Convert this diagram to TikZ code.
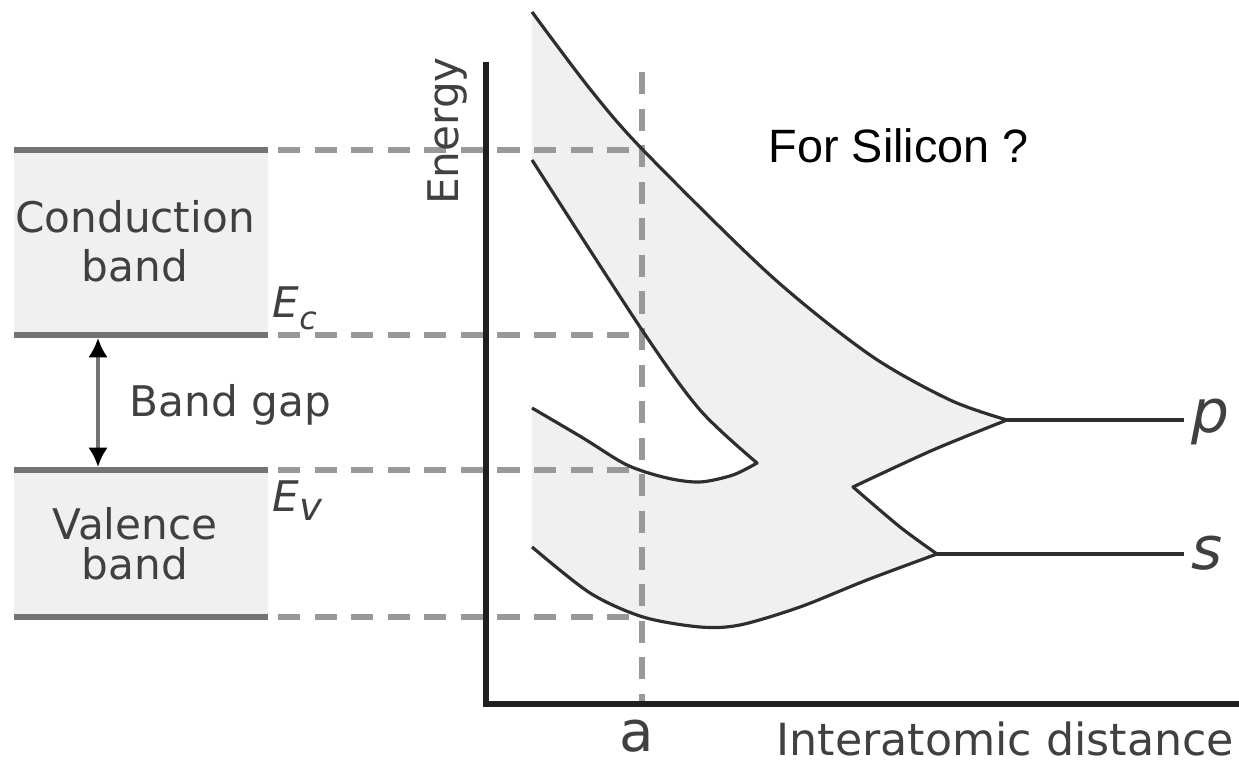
\documentclass[tikz,border=0pt]{standalone}
\usepackage{fontspec}
\setmainfont{DejaVu Sans}
\newfontfamily\notefont{Liberation Sans}
\usetikzlibrary{arrows.meta,positioning,calc}

\begin{document}
\begin{tikzpicture}[
    x=0.01cm, y=-0.01cm,
    >=Latex,
    lbl/.style={text=black!75, inner sep=0pt, font=\fontsize{12}{14}\selectfont},
    orbital/.style={text=black!75, inner sep=2pt, font=\fontsize{17}{17}\selectfont\itshape},
    bandline/.style={draw=black!55, line width=1.9pt},
    bandfill/.style={fill=black!6},
    guide/.style={draw=black!40, line width=1.5pt, dash pattern=on 6.3pt off 4.1pt},
    axis/.style={draw=black!88, line width=1.7pt},
    level/.style={draw=black!82, line width=0.9pt, line join=round},
    gaparrow/.style={draw=black!55, line width=0.9pt,
        {Latex[length=5.5pt,width=5.5pt,color=black]}-{Latex[length=5.5pt,width=5.5pt,color=black]}}
]

% Frame
\useasboundingbox (0,0) rectangle (1239,762);

% Bands on the left
\coordinate (ctopL) at (14,150);  \coordinate (ctopR) at (268,150);
\coordinate (cbotL) at (14,335);  \coordinate (cbotR) at (268,335);
\coordinate (vtopL) at (14,470);  \coordinate (vtopR) at (268,470);
\coordinate (vbotL) at (14,617);  \coordinate (vbotR) at (268,617);

\fill[bandfill] (ctopL) rectangle (cbotR);
\fill[bandfill] (vtopL) rectangle (vbotR);
\draw[bandline] (ctopL) -- (ctopR);
\draw[bandline] (cbotL) -- (cbotR);
\draw[bandline] (vtopL) -- (vtopR);
\draw[bandline] (vbotL) -- (vbotR);

\node[lbl, align=center] (cblabel) at (135,241) {Conduction\\band};
\node[lbl, align=center] (vblabel) at (135,544) {Valence\\[-2.6pt]band};
\node[lbl, anchor=base west] (gaplabel) at (129,417) {Band gap};

\coordinate (gapTop) at (98,338);
\coordinate (gapBot) at (98,467);
\draw[gaparrow] (gapTop) -- (gapBot);

\node[lbl, anchor=base west] (eclabel) at (272,318) {\itshape E\raisebox{-3.4pt}{\fontsize{9}{9}\selectfont c}};
\node[lbl, anchor=base west] (evlabel) at (272,512) {\itshape E\raisebox{-2.5pt}{\fontsize{11}{11}\selectfont v}};

% Allowed bands vs distance
\coordinate (pjoin) at (1007,420);
\coordinate (sjoin) at (937,554);
\coordinate (cusp) at (853,487);
\coordinate (tip) at (757,463);

\fill[bandfill] plot[smooth] coordinates {(532,12) (590,89) (643,150) (770,275) (870,355) (950,400) (pjoin)}
  -- plot[smooth] coordinates {(pjoin) (933,450) (cusp)}
  -- plot[smooth] coordinates {(cusp) (900,527) (sjoin)}
  -- plot[smooth] coordinates {(sjoin) (867,580) (800,607) (740,625) (700,627) (643,617) (590,593) (532,547)}
  -- (532,408)
  -- plot[smooth] coordinates {(532,408) (583,438) (627,465) (667,478) (700,482) (733,475) (tip)}
  -- plot[smooth] coordinates {(tip) (700,410) (642,330) (532,160)}
  -- cycle;

% Axes
\coordinate (origin) at (486,704);
\coordinate (yEnd) at (486,62);
\coordinate (xEnd) at (1239,704);
\coordinate (aTop) at (642,72);
\coordinate (aBot) at (642,704);

% Guide lines
\draw[guide] (aTop) -- (aBot);
\draw[guide] ($(ctopR)+(10,0)$) -- (ctopR -| aTop);
\draw[guide] ($(cbotR)+(10,0)$) -- (cbotR -| aTop);
\draw[guide] ($(vtopR)+(10,0)$) -- (vtopR -| aTop);
\draw[guide] ($(vbotR)+(10,0)$) -- (vbotR -| aTop);

% Band edges
\draw[level] plot[smooth] coordinates {(532,12) (590,89) (643,150) (770,275) (870,355) (950,400) (pjoin)};
\draw[level] plot[smooth] coordinates {(pjoin) (933,450) (cusp)}
  -- plot[smooth] coordinates {(cusp) (900,527) (sjoin)};
\draw[level] plot[smooth] coordinates {(sjoin) (867,580) (800,607) (740,625) (700,627) (643,617) (590,593) (532,547)};
\draw[level] plot[smooth] coordinates {(532,408) (583,438) (627,465) (667,478) (700,482) (733,475) (tip)}
  -- plot[smooth] coordinates {(tip) (700,410) (642,330) (532,160)};

% Atomic levels
\node[orbital, anchor=base west] (plabel) at (1184,433) {p};
\node[orbital, anchor=base west] (slabel) at (1184,570) {s};
\draw[level] (pjoin) -- (pjoin -| plabel.west);
\draw[level] (sjoin) -- (sjoin -| slabel.west);

\draw[axis] (yEnd) -- (origin) -- (xEnd);

% Axis labels
\node[lbl, rotate=90, anchor=base] (energy) at (458,131) {Energy};
\node[lbl, font=\fontsize{16}{16}\selectfont, anchor=base] (alabel) at (637,752) {a};
\node[lbl, font=\fontsize{12.6}{14}\selectfont, anchor=base west] (xlabel) at (776,756) {Interatomic distance};

% Note
\node[anchor=base west, inner sep=0pt, font=\notefont\fontsize{13.3}{16}\selectfont] (note) at (768,163) {For Silicon ?};

\end{tikzpicture}
\end{document}
